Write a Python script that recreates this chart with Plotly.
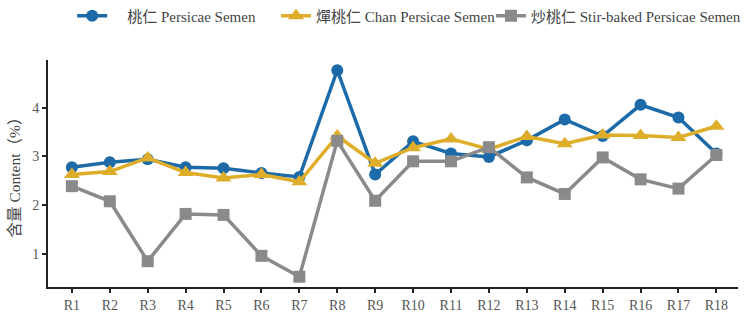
import plotly.graph_objects as go

# Sample batches
batches = [f"R{i}" for i in range(1, 19)]

# Content (%) per processed form
persicae = [2.78, 2.88, 2.94, 2.78, 2.76, 2.66, 2.58, 4.77, 2.63,
            3.31, 3.06, 2.99, 3.33, 3.76, 3.42, 4.06, 3.80, 3.06]
chan = [2.63, 2.69, 2.97, 2.67, 2.56, 2.63, 2.48, 3.42, 2.86,
        3.18, 3.36, 3.15, 3.41, 3.26, 3.44, 3.43, 3.39, 3.62]
stir_baked = [2.39, 2.08, 0.85, 1.82, 1.80, 0.96, 0.53, 3.32, 2.09,
              2.90, 2.90, 3.19, 2.57, 2.23, 2.98, 2.53, 2.34, 3.03]

series_names = ["\u2003桃仁 Persicae Semen", "燀桃仁 Chan Persicae Semen",
                "炒桃仁 Stir-baked Persicae Semen"]
colors = ["#1c6aa8", "#deae2a", "#8a8a8a"]
symbols = ["circle", "triangle-up", "square"]
sizes = [12, 14, 12]
legends = ["legend", "legend2", "legend3"]

xs = list(range(len(batches)))
font_family = "Liberation Serif, 'Noto Sans CJK SC', serif"

fig = go.Figure()
for vals, name, col, sym, sz, lg in zip([persicae, chan, stir_baked], series_names,
                                         colors, symbols, sizes, legends):
    fig.add_trace(go.Scatter(
        x=xs, y=vals, name=name, mode="lines+markers",
        line=dict(color=col, width=3.5),
        marker=dict(symbol=sym, size=sz, color=col),
        legend=lg,
    ))

legend_common = dict(orientation="h", bgcolor="rgba(0,0,0,0)",
                     font=dict(family=font_family, size=15, color="#444"),
                     xref="paper", yref="container", yanchor="middle", y=0.95,
                     itemwidth=30, xanchor="left")

fig.update_layout(
    width=746, height=321,
    margin=dict(l=48, r=8, t=60, b=20),
    paper_bgcolor="white", plot_bgcolor="white",
    showlegend=True,
    legend=dict(**legend_common, x=0.035),
    legend2=dict(**legend_common, x=0.3304),
    legend3=dict(**legend_common, x=0.6507),
    xaxis=dict(
        tickmode="array", tickvals=xs, ticktext=batches,
        range=[-0.63, 17.57], showgrid=False, zeroline=False,
        showline=True, linecolor="#222", linewidth=2,
        ticks="outside", ticklen=4, tickwidth=1.5, tickcolor="#222",
        tickfont=dict(family=font_family, size=14, color="#555"),
    ),
    yaxis=dict(
        range=[0.32, 4.98], tickvals=[1, 2, 3, 4], showgrid=False, zeroline=False,
        showline=True, linecolor="#222", linewidth=2,
        ticks="outside", ticklen=4, tickwidth=1.5, tickcolor="#222",
        tickfont=dict(family=font_family, size=14, color="#555"),
        title=dict(text="含量 Content（%）", standoff=8,
                   font=dict(family=font_family, size=15.5, color="#444")),
    ),
)

fig.write_html("out.html")
